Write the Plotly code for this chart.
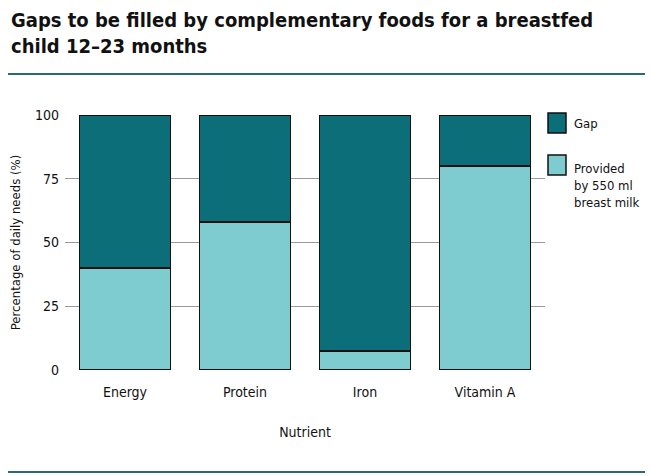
import plotly.graph_objects as go

nutrients = ["Energy", "Protein", "Iron", "Vitamin A"]
provided = [40, 58, 7.5, 80]
gap = [60, 42, 92.5, 20]
y_ticks = [0, 25, 50, 75, 100]

C_GAP = "#0b6e79"
C_PROV = "#7ecbd0"
C_RULE = "#2c6a70"
FONT = "Liberation Sans Narrow, DejaVu Sans Condensed, Arial Narrow, sans-serif"

O = 8  # page body margin offset
W, H = 653 - O, 476 - O
# reference-pixel plot box
PX0, PX1, PY0, PY1 = 65, 545, 115, 370
L, R, T, B = PX0 - O, (653 - PX1), PY0 - O, (476 - PY1)
pw, ph = PX1 - PX0, PY1 - PY0

def px(x):
    return (x - PX0) / pw

def py(y):
    return (PY1 - y) / ph

fig = go.Figure()
fig.add_bar(x=nutrients, y=provided, name="Provided by 550 ml breast milk",
            marker=dict(color=C_PROV, line=dict(color="#111", width=1.5)))
fig.add_bar(x=nutrients, y=gap, name="Gap",
            marker=dict(color=C_GAP, line=dict(color="#111", width=1.5)))

fig.update_layout(
    width=W, height=H, barmode="stack", bargap=0.24,
    margin=dict(l=L, r=R, t=T, b=B, autoexpand=False),
    plot_bgcolor="white", paper_bgcolor="white",
    showlegend=False,
    font=dict(family=FONT, color="#111", size=14),
)
fig.update_xaxes(
    automargin=False,
    showgrid=False, showline=False, ticks="",
    ticklabelstandoff=12,
    tickfont=dict(size=14, family=FONT, color="#111"),
    title=dict(text="Nutrient", font=dict(size=14, family=FONT, color="#111"), standoff=28),
)
fig.update_yaxes(
    automargin=False,
    range=[0, 100], tickvals=y_ticks, ticktext=[str(v) for v in y_ticks],
    showgrid=True, gridcolor="#9a9a9a", gridwidth=1, zeroline=False,
    showline=False, ticks="",
    ticklabelstandoff=5,
    tickfont=dict(size=14, family=FONT, color="#111"),
    title=dict(text="Percentage of daily needs (%)", font=dict(size=13, family=FONT, color="#111"), standoff=12),
)

# Title
fig.add_annotation(
    text="<b>Gaps to be filled by complementary foods for a breastfed<br>child 12\u201323 months</b>",
    xref="paper", yref="paper", x=px(9), y=py(6), xanchor="left", yanchor="top",
    showarrow=False, align="left", font=dict(size=20, family=FONT, color="#111"),
)
# Rules
for yy in (74, 472):
    fig.add_shape(type="line", xref="paper", yref="paper", x0=px(2), x1=px(651), y0=py(yy), y1=py(yy),
                  line=dict(color=C_RULE, width=2))

# Manual legend
leg = [(C_GAP, "Gap", 113, 123), (C_PROV, "Provided<br>by 550 ml<br>breast milk", 155, 185)]
for col, txt, sy, ty in leg:
    fig.add_shape(type="rect", xref="paper", yref="paper", x0=px(548), x1=px(566), y0=py(sy), y1=py(sy + 20),
                  fillcolor=col, line=dict(color="#111", width=1.5))
    fig.add_annotation(text=txt, xref="paper", yref="paper", x=px(572), y=py(ty), xanchor="left", yanchor="middle",
                       showarrow=False, align="left", font=dict(size=13, family=FONT, color="#111"))

fig.write_html("out.html")
